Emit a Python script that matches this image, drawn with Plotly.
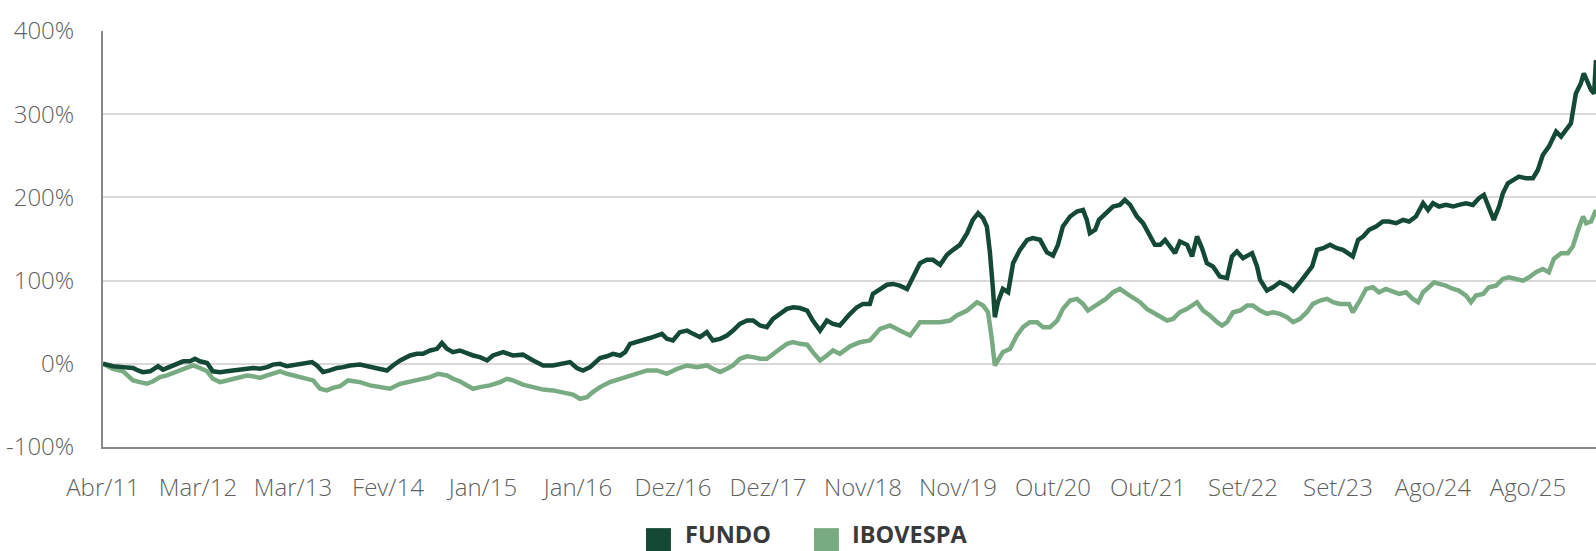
import plotly.graph_objects as go

# Cumulative return (%) by trading-day index since Apr/2011
dias_fundo = [0, 26, 53, 79, 92, 105, 124, 145, 158, 176, 195, 211, 229, 242, 255, 274, 289, 308, 326, 342,
              361, 379, 395, 413, 432, 447, 466, 484, 500, 518, 537, 550, 563, 579, 597, 616, 632, 650, 676, 703,
              729, 747, 763, 782, 808, 826, 842, 861, 879, 892, 905, 921, 939, 958, 974, 992, 1011, 1026, 1053, 1079,
              1105, 1132, 1158, 1184, 1211, 1229, 1247, 1263, 1282, 1300, 1308, 1326, 1342, 1361, 1374, 1387, 1405, 1421, 1439, 1458,
              1471, 1484, 1500, 1518, 1537, 1553, 1571, 1589, 1605, 1624, 1642, 1658, 1676, 1695, 1711, 1729, 1747, 1763, 1782, 1800,
              1816, 1834, 1853, 1868, 1887, 1905, 1921, 1939, 1966, 1984, 2000, 2018, 2026, 2045, 2063, 2079, 2097, 2116, 2132, 2150,
              2168, 2184, 2203, 2221, 2237, 2255, 2274, 2289, 2303, 2316, 2326, 2334, 2342, 2347, 2355, 2368, 2382, 2395, 2413, 2432,
              2447, 2466, 2484, 2500, 2513, 2526, 2545, 2563, 2579, 2589, 2597, 2611, 2621, 2639, 2658, 2676, 2689, 2703, 2721, 2737,
              2755, 2768, 2782, 2795, 2808, 2821, 2834, 2853, 2866, 2879, 2892, 2905, 2921, 2939, 2958, 2971, 2984, 3000, 3024, 3037,
              3045, 3063, 3079, 3097, 3116, 3132, 3150, 3168, 3182, 3195, 3211, 3229, 3247, 3263, 3279, 3289, 3303, 3316, 3332, 3350,
              3368, 3384, 3403, 3421, 3437, 3455, 3474, 3487, 3500, 3516, 3534, 3553, 3568, 3587, 3605, 3621, 3634, 3647, 3660, 3674,
              3684, 3697, 3711, 3726, 3745, 3763, 3776, 3789, 3805, 3824, 3837, 3850, 3863, 3876, 3889, 3897, 3908, 3916, 3924, 3929]
fundo = [0, -3, -4, -5, -8, -10, -9, -3, -7, -4, -1, 3, 3, 6, 3, 1, -9, -10, -9, -8,
         -8, -6, -5, -6, -4, -1, 0, -3, -2, -1, 0, 2, -2, -10, -8, -5, -4, -2, -1, -4,
         -6, -8, -2, 4, 10, 12, 12, 16, 18, 25, 18, 14, 16, 12, 10, 8, 4, 10, 14, 10,
         11, 4, -2, -2, 0, 2, -5, -8, -4, 4, 7, 9, 12, 10, 14, 24, 26, 28, 31, 34,
         36, 30, 28, 38, 40, 36, 32, 38, 28, 30, 34, 40, 48, 52, 52, 46, 44, 54, 60, 66,
         68, 67, 64, 52, 40, 52, 48, 46, 60, 68, 72, 72, 84, 90, 95, 96, 94, 90, 105, 121,
         125, 125, 119, 131, 137, 143, 157, 173, 181, 175, 165, 134, 90, 56, 74, 90, 86, 121, 137, 149,
         151, 149, 134, 130, 143, 165, 177, 183, 185, 173, 157, 161, 173, 181, 189, 191, 197, 191, 177, 169,
         155, 143, 143, 149, 141, 133, 147, 143, 129, 153, 139, 121, 117, 105, 103, 129, 135, 127, 133, 117,
         101, 88, 92, 98, 94, 88, 98, 108, 117, 137, 139, 143, 139, 137, 133, 129, 149, 153, 161, 165,
         171, 171, 169, 173, 171, 177, 193, 185, 193, 189, 191, 189, 191, 193, 191, 199, 203, 189, 173, 189,
         205, 217, 221, 225, 223, 223, 233, 251, 261, 279, 273, 281, 289, 325, 337, 349, 339, 329, 325, 365]

dias_ibov = [0, 26, 53, 79, 97, 116, 132, 150, 168, 184, 203, 221, 237, 255, 274, 289, 308, 326, 342, 361,
             379, 395, 413, 432, 447, 466, 484, 500, 518, 537, 553, 571, 589, 605, 624, 645, 676, 703, 729, 755,
             782, 808, 834, 861, 882, 905, 921, 939, 958, 974, 992, 1018, 1045, 1063, 1079, 1105, 1132, 1158, 1184, 1211,
             1237, 1255, 1274, 1289, 1308, 1334, 1355, 1379, 1405, 1432, 1458, 1484, 1511, 1537, 1563, 1589, 1605, 1624, 1642, 1658,
             1676, 1695, 1711, 1729, 1747, 1763, 1782, 1800, 1816, 1834, 1853, 1868, 1887, 1905, 1921, 1939, 1966, 1992, 2018, 2045,
             2071, 2097, 2124, 2150, 2176, 2203, 2229, 2247, 2274, 2300, 2316, 2329, 2339, 2347, 2355, 2368, 2387, 2405, 2421, 2439,
             2458, 2474, 2492, 2511, 2526, 2545, 2563, 2579, 2592, 2605, 2621, 2639, 2658, 2676, 2695, 2711, 2729, 2747, 2763, 2782,
             2800, 2816, 2834, 2853, 2868, 2879, 2895, 2913, 2932, 2945, 2958, 2974, 2992, 3011, 3026, 3045, 3063, 3079, 3097, 3116,
             3132, 3150, 3168, 3184, 3203, 3221, 3237, 3255, 3279, 3289, 3305, 3324, 3342, 3358, 3376, 3395, 3411, 3429, 3447, 3461,
             3474, 3489, 3503, 3516, 3534, 3553, 3568, 3587, 3600, 3613, 3632, 3647, 3666, 3684, 3700, 3718, 3737, 3753, 3771, 3789,
             3805, 3818, 3837, 3855, 3868, 3882, 3895, 3903, 3916, 3929]
ibov = [0, -6, -9, -20, -22, -24, -21, -16, -14, -11, -7, -5, -2, -5, -9, -18, -22, -20, -18, -16,
        -14, -15, -17, -14, -12, -9, -12, -14, -16, -19, -20, -30, -32, -29, -27, -20, -22, -26, -28, -30,
        -24, -21, -19, -16, -12, -14, -18, -21, -26, -30, -28, -26, -22, -18, -20, -25, -28, -31, -32, -34,
        -37, -42, -40, -34, -28, -22, -19, -16, -12, -8, -8, -12, -6, -2, -4, -2, -6, -10, -6, -2,
        6, 9, 8, 6, 6, 12, 18, 24, 26, 24, 23, 14, 4, 10, 16, 12, 21, 26, 28, 42,
        46, 40, 34, 50, 50, 50, 52, 58, 64, 74, 70, 62, 30, -2, 4, 14, 18, 34, 44, 50,
        50, 44, 44, 52, 66, 76, 78, 72, 64, 68, 74, 78, 86, 90, 84, 80, 74, 66, 62, 58,
        52, 54, 62, 66, 70, 74, 64, 58, 50, 46, 50, 62, 64, 70, 70, 64, 60, 62, 60, 56,
        50, 54, 62, 72, 76, 78, 74, 72, 72, 62, 74, 90, 92, 86, 90, 86, 84, 86, 78, 74,
        86, 92, 98, 96, 94, 90, 88, 82, 74, 82, 84, 92, 94, 102, 104, 102, 100, 104, 110, 114,
        110, 126, 133, 133, 141, 161, 177, 169, 171, 185]

rotulos_x = ["Abr/11", "Mar/12", "Mar/13", "Fev/14", "Jan/15", "Jan/16", "Dez/16", "Dez/17",
             "Nov/18", "Nov/19", "Out/20", "Out/21", "Set/22", "Set/23", "Ago/24", "Ago/25"]
posicoes_x = [i * 250 for i in range(len(rotulos_x))]

valores_y = [-100, 0, 100, 200, 300, 400]
rotulos_y = ["-100%", "0%", "100%", "200%", "300%", "400%"]

COR_FUNDO = "#144a35"
COR_IBOV = "#79ab83"
COR_TEXTO = "#5f5f5f"

fig = go.Figure()
fig.add_trace(go.Scatter(x=dias_ibov, y=ibov, mode="lines", name="IBOVESPA",
                         line=dict(color=COR_IBOV, width=4.5), showlegend=False))
fig.add_trace(go.Scatter(x=dias_fundo, y=fundo, mode="lines", name="FUNDO",
                         line=dict(color=COR_FUNDO, width=4.5), showlegend=False))

fig.update_layout(
    width=1596, height=551,
    margin=dict(l=103, r=0, t=31, b=104),
    paper_bgcolor="white", plot_bgcolor="white",
    font=dict(family="Open Sans", size=24, color=COR_TEXTO, weight=300),
    showlegend=False,
)
fig.update_xaxes(
    range=[0, dias_fundo[-1]],
    tickmode="array", tickvals=posicoes_x, ticktext=rotulos_x,
    showgrid=False, zeroline=False,
    showline=True, linecolor="#8a8a8a", linewidth=2,
    ticks="", ticklabelstandoff=18,
)
fig.update_yaxes(
    range=[-100, 400],
    tickmode="array", tickvals=valores_y, ticktext=rotulos_y,
    showgrid=True, gridcolor="#d9d9d9", gridwidth=2, zeroline=False,
    showline=True, linecolor="#8a8a8a", linewidth=2,
    ticks="", ticklabelstandoff=22,
)

# Legend drawn as colored squares with bold labels below the plot
itens = [("FUNDO", COR_FUNDO, 0.3637, 0.3890), ("IBOVESPA", COR_IBOV, 0.4762, 0.5008)]
for nome, cor, x_sq, x_txt in itens:
    fig.add_shape(type="rect", xref="paper", yref="paper",
                  x0=x_sq, x1=x_sq + 0.0167, y0=-0.255, y1=-0.195,
                  fillcolor=cor, line=dict(width=0))
    fig.add_annotation(text=f"<b>{nome}</b>", xref="paper", yref="paper",
                       x=x_txt, y=-0.208, xanchor="left", yanchor="middle",
                       showarrow=False, borderpad=0,
                       font=dict(family="Open Sans", size=23.5, color="#3a3a3a", weight=700))

fig.write_html("out.html")
